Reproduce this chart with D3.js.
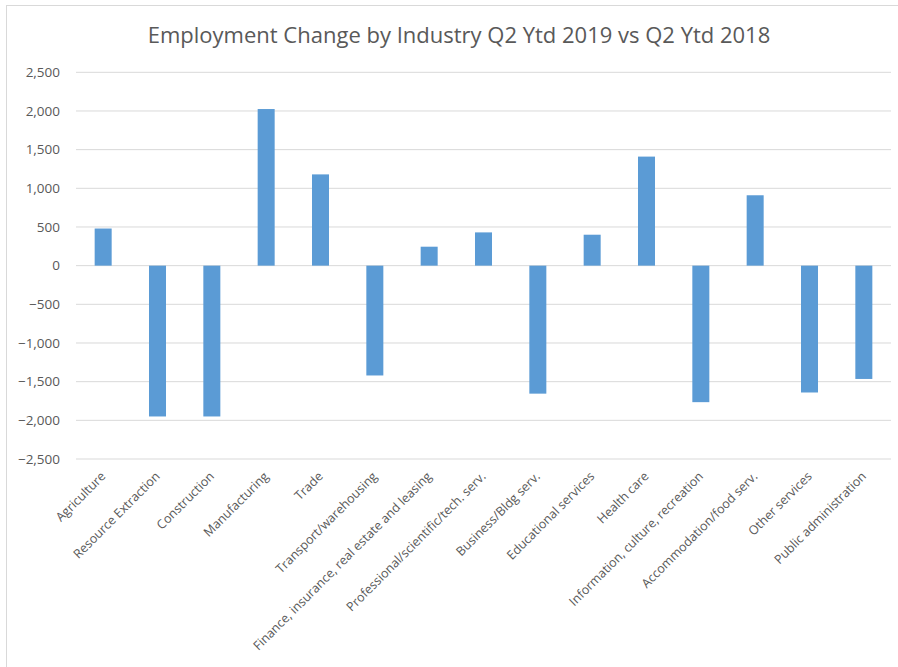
<!DOCTYPE html>
<html><head><meta charset="utf-8">
<script src="https://cdn.jsdelivr.net/npm/d3@7"></script>
<style>body{margin:0;background:#fff;} text{font-family:"Open Sans",sans-serif;}</style>
</head><body>
<svg id="c" width="898" height="667"></svg>
<script>
const categories = ["Agriculture","Resource Extraction","Construction","Manufacturing","Trade","Transport/warehousing","Finance, insurance, real estate and leasing","Professional/scientific/tech. serv.","Business/Bldg serv.","Educational services","Health care","Information, culture, recreation","Accommodation/food serv.","Other services","Public administration"];
const values = [480,-1950,-1950,2025,1180,-1420,245,430,-1655,400,1410,-1765,910,-1640,-1465];
const yTicks = [-2500,-2000,-1500,-1000,-500,0,500,1000,1500,2000,2500];
const title = "Employment Change by Industry Q2 Ytd 2019 vs Q2 Ytd 2018";

const svg = d3.select("#c");
const L = 76, R = 891, T = 72.3, B = 459;
svg.append("rect").attr("x",6.5).attr("y",5.5).attr("width",1000).attr("height",1000)
  .attr("fill","none").attr("stroke","#d9d9d9");

const x = d3.scaleBand().domain(categories).range([L,R]).paddingInner(0.687).paddingOuter(0.3435);
const y = d3.scaleLinear().domain([-2500,2500]).range([B,T]);

svg.append("g").selectAll("line").data(yTicks).join("line")
  .attr("x1",L).attr("x2",R).attr("y1",d=>y(d)).attr("y2",d=>y(d))
  .attr("stroke","#d9d9d9").attr("stroke-width",1);

const yAxis = d3.axisLeft(y).tickValues(yTicks).tickFormat(d3.format(",")).tickSize(0).tickPadding(16);
const ga = svg.append("g").attr("transform",`translate(${L},0)`).call(yAxis);
ga.select(".domain").remove();
ga.selectAll("text").attr("fill","#595959").style("font-size","13.5px").style("font-family","'Open Sans',sans-serif");

svg.append("g").selectAll("rect").data(values).join("rect")
  .attr("x",(d,i)=>x(categories[i])).attr("width",x.bandwidth())
  .attr("y",d=>y(Math.max(0,d))).attr("height",d=>Math.abs(y(d)-y(0)))
  .attr("fill","#5b9bd5");

const xAxis = d3.axisBottom(x).tickSize(0).tickPadding(0);
const gx = svg.append("g").attr("transform",`translate(0,${B})`).call(xAxis);
gx.select(".domain").remove();
gx.selectAll("text").attr("fill","#595959").style("font-size","12.5px").style("font-family","'Open Sans',sans-serif")
  .attr("text-anchor","end").attr("dy","0.35em")
  .attr("transform","translate(0,15) rotate(-45)").attr("y",0).attr("x",0);

svg.append("text").attr("x",459).attr("y",43).attr("text-anchor","middle")
  .attr("fill","#595959").style("font-size","22px").style("font-family","'Open Sans',sans-serif").text(title);
</script>
</body></html>
